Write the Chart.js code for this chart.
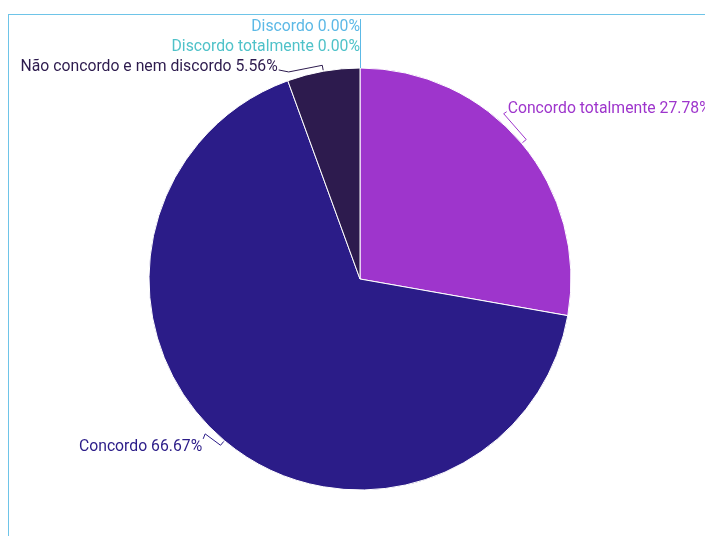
<!DOCTYPE html>
<html>
<head>
<meta charset="utf-8">
<script src="https://cdn.jsdelivr.net/npm/chart.js@4"></script>
<style>
  html, body { margin: 0; padding: 0; background: #fff; overflow: hidden; }
  #frame { position: absolute; left: 8px; top: 14px; width: 800px; height: 600px; border: 1px solid #6ec4e8; }
  #wrap { position: absolute; left: 0; top: 0; width: 705px; height: 536px; }
</style>
</head>
<body>
<div id="frame"></div>
<div id="wrap"><canvas id="pieChart"></canvas></div>
<script>
// answer categories, clockwise from the top
const categories = ['Concordo totalmente', 'Concordo', 'Não concordo e nem discordo', 'Discordo totalmente', 'Discordo'];
const percents = [27.78, 66.67, 5.56, 0, 0];
const sliceColors = ['#9e35cc', '#2b1c88', '#2d1b4e', '#4fc2c9', '#5cb9e6'];

// outside labels with little bracket leader lines
const outsideLabels = {
  id: 'outsideLabels',
  afterDatasetsDraw(chart) {
    const ctx = chart.ctx;
    const meta = chart.getDatasetMeta(0);
    let zeroIdx = 0;
    ctx.save();
    ctx.font = '15.75px Roboto';
    ctx.textBaseline = 'middle';
    ctx.lineWidth = 1;
    meta.data.forEach((arc, i) => {
      const { x, y, startAngle, endAngle, outerRadius: r } = arc.getProps(['x', 'y', 'startAngle', 'endAngle', 'outerRadius'], true);
      const color = sliceColors[i];
      const text = categories[i] + ' ' + percents[i].toFixed(2) + '%';
      ctx.fillStyle = color;
      ctx.strokeStyle = color;

      if (percents[i] === 0) {
        // empty slices stack up above the top of the pie
        const ly = y - r - 21 - 20 * zeroIdx;
        ctx.beginPath();
        ctx.moveTo(x + 0.5, y - r);
        ctx.lineTo(x + 0.5, ly - 8);
        ctx.stroke();
        ctx.textAlign = 'right';
        ctx.fillText(text, x, ly);
        zeroIdx++;
        return;
      }

      const mid = (startAngle + endAngle) / 2;
      const upper = Math.sin(mid) < 0;
      const d = (upper ? -9 : 5) * Math.PI / 180;
      const pol = (a, rr) => [x + Math.cos(a) * rr, y + Math.sin(a) * rr];
      const p0 = pol(mid, r + 1);
      const p1 = pol(mid, r + 6);
      const p2 = pol(mid + d, r + 8);
      const right = p2[0] >= x;
      const tx = p2[0] + (right ? 4 : (upper ? -11 : -3));
      const ty = p2[1] + (upper ? -5 : 13);

      ctx.beginPath();
      ctx.moveTo(p0[0], p0[1]);
      ctx.lineTo(p1[0], p1[1]);
      ctx.lineTo(p2[0], p2[1]);
      ctx.lineTo(tx + (right ? -1 : 1), ty + (upper ? 3 : -8));
      ctx.stroke();

      ctx.textAlign = right ? 'left' : 'right';
      ctx.fillText(text, tx, ty);
    });
    ctx.restore();
  }
};

new Chart(document.getElementById('pieChart'), {
  type: 'pie',
  data: {
    labels: categories,
    datasets: [{
      data: percents,
      backgroundColor: sliceColors,
      borderColor: '#ffffff',
      borderWidth: 1
    }]
  },
  options: {
    responsive: true,
    maintainAspectRatio: false,
    animation: false,
    radius: 211,
    layout: { padding: { left: 15, right: 0, top: 22, bottom: 0 } },
    plugins: {
      legend: { display: false },
      tooltip: { enabled: false }
    }
  },
  plugins: [outsideLabels]
});
</script>
</body>
</html>
